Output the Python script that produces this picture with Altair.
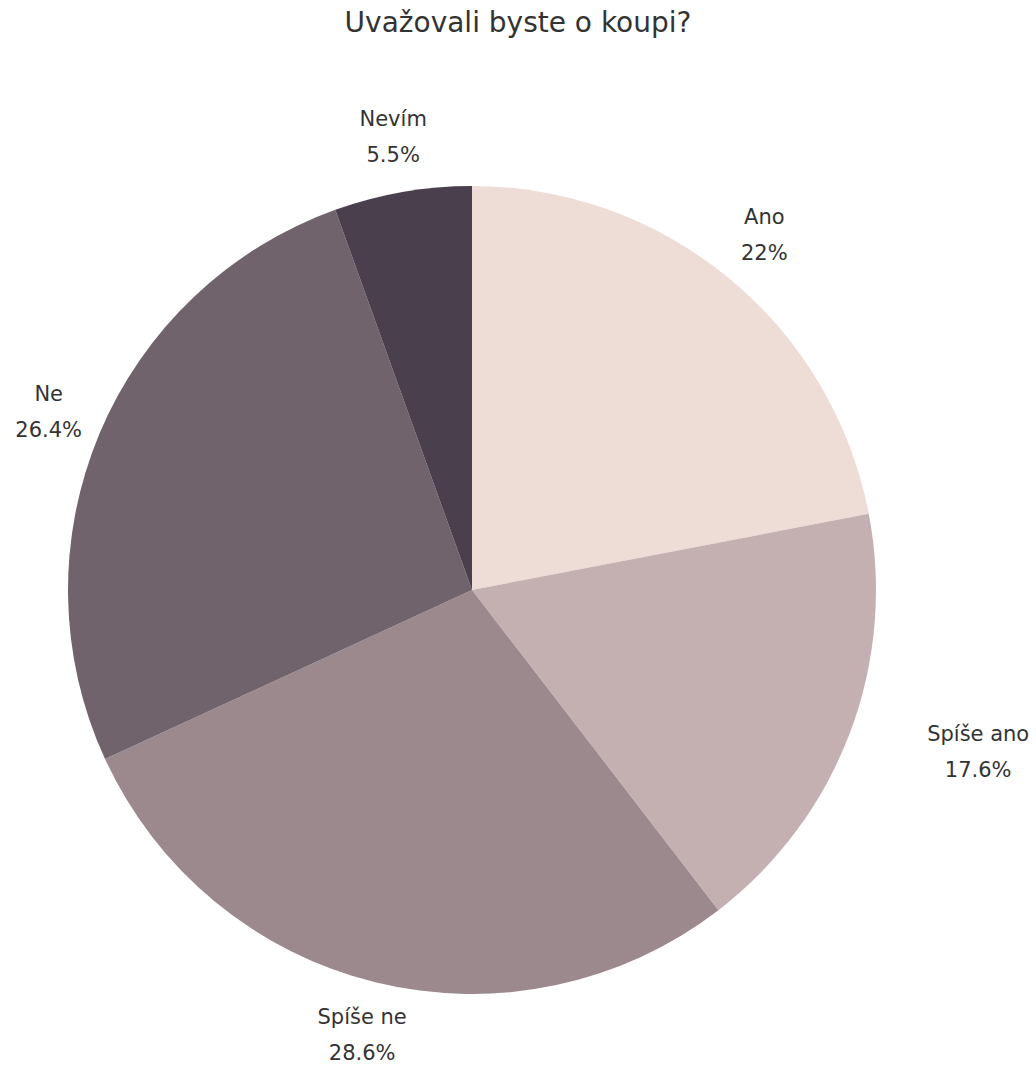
import altair as alt
import pandas as pd

categories = ["Ano", "Spíše ano", "Spíše ne", "Ne", "Nevím"]
values = [22, 17.6, 28.6, 26.4, 5.5]
colors = ["#EEDCD7", "#C4B0B1", "#9C898E", "#70636C", "#4A404D"]

df = pd.DataFrame({"cat": categories, "value": values, "idx": list(range(len(categories)))})

FONT = "DejaVu Sans"
CX, CY = 472, 530

base = alt.Chart(df).encode(
    theta=alt.Theta("value:Q", stack=True),
    order=alt.Order("idx:Q"),
)

pie = base.mark_arc(outerRadius=404).encode(
    x=alt.value(CX),
    y=alt.value(CY),
    color=alt.Color("cat:N", scale=alt.Scale(domain=categories, range=colors), legend=None),
)

text_kw = dict(radius=459, font=FONT, fontSize=21, lineBreak="\n", lineHeight=36,
               align="center", baseline="middle", color="#333333", dy=-18)

labels = base.mark_text(**text_kw).encode(
    x=alt.value(CX), y=alt.value(CY), text="label:N"
).transform_calculate(
    label="datum.cat == 'Spíše ano' ? '' : datum.cat + '\\n' + datum.value + '%'"
)

labels2 = base.mark_text(dx=77, **text_kw).encode(
    x=alt.value(CX), y=alt.value(CY), text="label:N"
).transform_calculate(
    label="datum.cat == 'Spíše ano' ? datum.cat + '\\n' + datum.value + '%' : ''"
)

chart = alt.layer(pie, labels, labels2).properties(
    width=1036,
    height=1005,
    padding={"left": 0, "right": 0, "top": 60, "bottom": 0},
    autosize=alt.AutoSizeParams(type="none"),
    title=alt.TitleParams("Uvažovali byste o koupi?", font=FONT, fontSize=28, fontWeight="normal",
                          color="#333333", anchor="middle", offset=22),
).configure_view(stroke=None)

chart.save("out.html", embed_options={"renderer": "svg", "actions": False})
